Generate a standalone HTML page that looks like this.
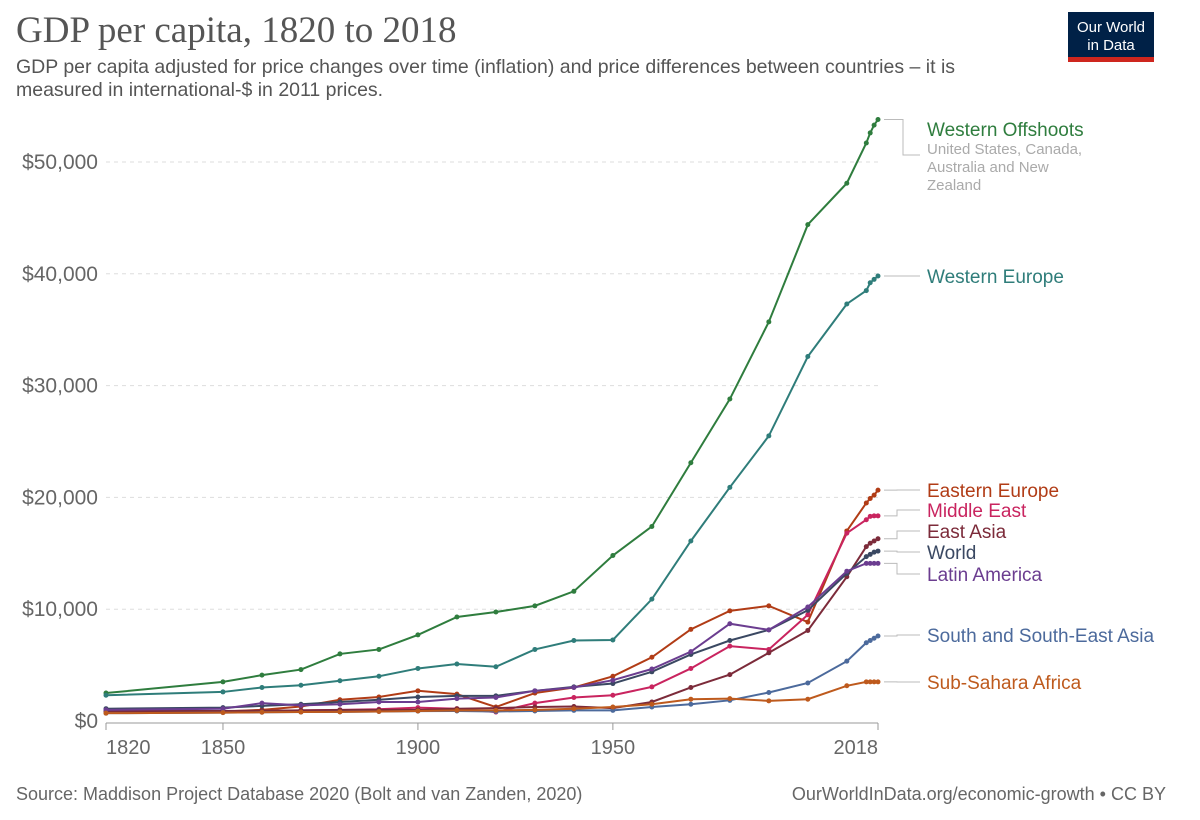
<!DOCTYPE html>
<html><head><meta charset="utf-8"><style>
body{margin:0;background:#fff;width:1200px;height:820px;overflow:hidden;font-family:"Liberation Sans",sans-serif}
svg{position:absolute;left:0;top:0}
</style></head><body>
<svg id="c" width="1200" height="820">
<text x="16" y="42" font-family="Liberation Serif" font-size="37" fill="#555">GDP per capita, 1820 to 2018</text>
<text x="16" y="73" font-size="19.5" fill="#555">GDP per capita adjusted for price changes over time (inflation) and price differences between countries – it is</text>
<text x="16" y="96" font-size="19.5" fill="#555">measured in international-$ in 2011 prices.</text>
<g>
<rect x="1068" y="12" width="86" height="50" fill="#002147"/>
<rect x="1068" y="57" width="86" height="5" fill="#ce261e"/>
<text x="1111" y="32" text-anchor="middle" font-size="15" fill="#fff">Our World</text>
<text x="1111" y="50" text-anchor="middle" font-size="15" fill="#fff">in Data</text>
</g>
<text x="16" y="800" font-size="18" fill="#666">Source: Maddison Project Database 2020 (Bolt and van Zanden, 2020)</text>
<text x="1166" y="800" text-anchor="end" font-size="18" fill="#666">OurWorldInData.org/economic-growth • CC BY</text>
<g id="plot"></g>
</svg>
<script>
const years=[1820,1850,1860,1870,1880,1890,1900,1910,1920,1930,1940,1950,1960,1970,1980,1990,2000,2010,2015,2016,2017,2018];
const yTicks=[0,10000,20000,30000,40000,50000];
const yTickLabels=["$0","$10,000","$20,000","$30,000","$40,000","$50,000"];
const xTicks=[1820,1850,1900,1950,2018];
const seriesNames=["Western Offshoots","Western Europe","Eastern Europe","Middle East","East Asia","World","Latin America","South and South-East Asia","Sub-Sahara Africa"];
const westernOffshoots=[2500,3500,4100,4600,6000,6400,7700,9300,9750,10300,11600,14800,17400,23100,28800,35700,44400,48100,51700,52600,53300,53800];
const westernEurope=[2300,2600,3000,3200,3600,4000,4700,5100,4850,6400,7200,7250,10900,16100,20900,25500,32600,37300,38500,39200,39500,39800];
const easternEurope=[800,850,1000,1300,1900,2150,2700,2400,1250,2500,3000,4000,5700,8200,9850,10300,8850,17000,19500,19900,20200,20650];
const middleEast=[800,850,900,950,1000,1050,1200,1100,800,1600,2100,2300,3050,4700,6700,6400,9500,16800,18000,18300,18350,18350];
const eastAsia=[900,900,920,950,980,1000,1000,1100,1150,1250,1300,1150,1700,3000,4150,6100,8100,12900,15600,15900,16100,16300];
const world=[1100,1200,1350,1500,1700,1900,2150,2250,2250,2700,3050,3350,4400,5950,7200,8150,9900,13200,14700,14900,15100,15200];
const latinAmerica=[1000,1100,1600,1400,1500,1700,1700,2000,2100,2700,3000,3650,4650,6200,8700,8150,10200,13400,14100,14100,14100,14100];
const southAsia=[700,750,780,800,820,850,880,900,850,900,950,950,1250,1500,1850,2550,3400,5350,7000,7200,7400,7600];
const subSahara=[700,750,780,800,820,850,900,950,950,1000,1100,1250,1500,1950,2000,1800,1950,3150,3500,3500,3500,3500];
const allSeries=[westernOffshoots,westernEurope,easternEurope,middleEast,eastAsia,world,latinAmerica,southAsia,subSahara];
const colors=["#2f7d3e","#2f7d7a","#b13c16","#c9245f","#7c2b3a","#3a4862","#6b3d90","#4c6a9c","#be5a1d"];
const labelY=[129,276,490,510,531,552,574,635,682];
const X=y=>106+(y-1820)*(772/198);
const Y=v=>721-v*(559/50000);
const ns="http://www.w3.org/2000/svg";
const plot=document.getElementById('plot');
function mk(tag,attrs,parent){const e=document.createElementNS(ns,tag);for(const k in attrs)e.setAttribute(k,attrs[k]);(parent||plot).appendChild(e);return e;}
yTicks.forEach((t,i)=>{
  if(i>0){const g=mk('line',{x1:106,x2:878,y1:Y(t),y2:Y(t),stroke:'#ddd','stroke-dasharray':'4,4'});
  
  }
  const l=mk('text',{x:98,y:Y(t)+7,'text-anchor':'end','font-size':21,fill:'#666'});
  l.textContent=yTickLabels[i];
  
  
});
const ax=mk('line',{x1:106,x2:878,y1:723,y2:723,stroke:'#999'});


xTicks.forEach((t,i)=>{
  const tk=mk('line',{x1:X(t),x2:X(t),y1:723,y2:730,stroke:'#999'});
  
  
  const anchor=i===0?'start':(i===xTicks.length-1?'end':'middle');
  const l=mk('text',{x:X(t),y:754,'text-anchor':anchor,'font-size':20,fill:'#666'});
  l.textContent=t;
  
  
});
allSeries.forEach((s,i)=>{
  const g=mk('g',{});
  
  
  const pts=s.map((v,j)=>X(years[j])+','+Y(v)).join(' ');
  mk('polyline',{points:pts,fill:'none',stroke:colors[i],'stroke-width':2},g);
  s.forEach((v,j)=>{const c=mk('circle',{cx:X(years[j]),cy:Y(v),r:2.5,fill:colors[i]},g);
    
    });
  const ey=Y(s[s.length-1]),ly=labelY[i];
  const ld=mk('polyline',{points:`884,${ey} 897,${ey} 897,${ly} 920,${ly}`,fill:'none',stroke:'#bbb','stroke-width':1});
  if(i===0) ld.setAttribute('points',`884,${ey} 903,${ey} 903,155 920,155`);
  
  
  const t=mk('text',{x:927,y:ly+7,'font-size':19,fill:colors[i]});
  t.textContent=seriesNames[i];
  
  
});
["United States, Canada,","Australia and New","Zealand"].forEach((s,k)=>{
  const t=mk('text',{x:927,y:154+k*18,'font-size':15,fill:'#aaa'});
  t.textContent=s;
  
  
});
</script>
</body></html>
